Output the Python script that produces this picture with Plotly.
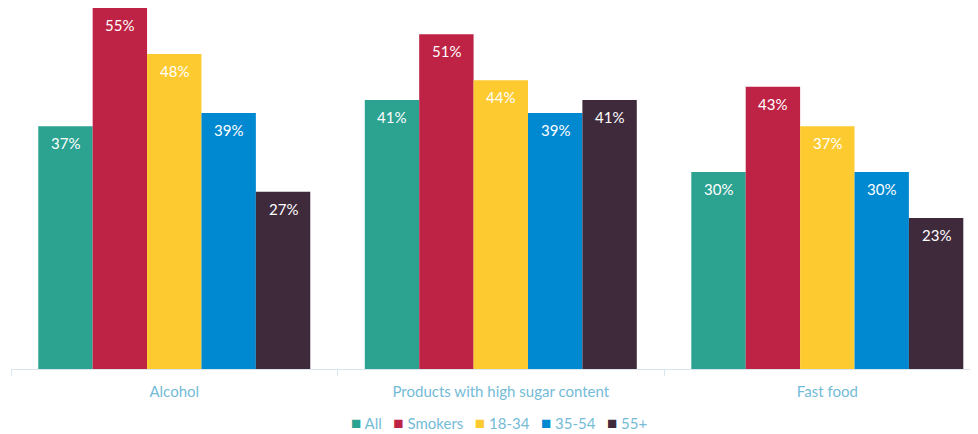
import plotly.graph_objects as go

categories = ["Alcohol", "Products with high sugar content", "Fast food"]
series_names = ["All", "Smokers", "18-34", "35-54", "55+"]
all_vals = [37, 41, 30]
smokers_vals = [55, 51, 43]
age_18_34 = [48, 44, 37]
age_35_54 = [39, 39, 30]
age_55_plus = [27, 41, 23]
colors = ["#2CA291", "#BE2244", "#FDCA2F", "#0088D1", "#3F2A3C"]

values = [all_vals, smokers_vals, age_18_34, age_35_54, age_55_plus]
BARGAP = 0.167
n = len(series_names)
bw = (1 - BARGAP) / n

fig = go.Figure()
for i, (name, vals, col) in enumerate(zip(series_names, values, colors)):
    fig.add_trace(go.Bar(
        name=name, x=categories, y=vals, marker=dict(color=col, line=dict(width=0)),
        showlegend=False,
    ))
    for j, v in enumerate(vals):
        fig.add_annotation(x=j + (i - (n - 1) / 2) * bw, y=v, xref="x", yref="y",
                           text=f"{v}%", showarrow=False, yshift=-17,
                           font=dict(color="white", size=15, family="Lato"))

legend_text = "&nbsp;&nbsp;&nbsp;".join(
    f"<span style='color:{c};font-size:17px'>■</span><span style='color:#74BBD6'> {nm}</span>"
    for nm, c in zip(series_names, colors))
fig.add_annotation(xref="paper", yref="paper", x=0.5, y=0, yshift=-53, xanchor="center",
                   yanchor="middle", showarrow=False, text=legend_text,
                   font=dict(size=15, family="Lato"), borderpad=0)

fig.update_layout(
    width=978, height=434,
    margin=dict(l=3, r=0, t=0, b=73, autoexpand=False),
    barmode="group", bargap=BARGAP, bargroupgap=0,
    plot_bgcolor="white", paper_bgcolor="white",
    font=dict(family="Lato", color="#74BBD6", size=15),
    showlegend=False,
)
fig.update_xaxes(range=[-0.5, 2.486], showline=True, linecolor="#D9E6EE", linewidth=1,
                 ticks="outside", tickson="boundaries", ticklen=6, tickcolor="#D9E6EE",
                 ticklabelstandoff=9, automargin=False,
                 tickfont=dict(size=15, color="#74BBD6"))
fig.update_yaxes(range=[0, 55], visible=False, showgrid=False, automargin=False)

fig.write_html("out.html")
